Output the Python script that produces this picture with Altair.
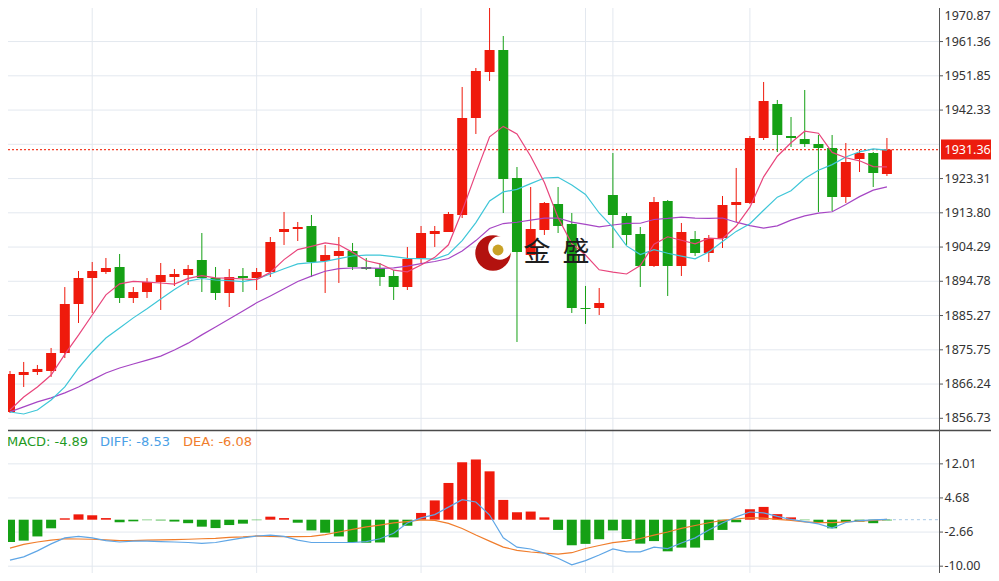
import altair as alt
import pandas as pd

# ---------------- data ----------------
idx = list(range(65))
opens = [1858.48, 1868.76, 1869.59, 1869.87, 1874.87, 1888.48, 1895.69, 1897.36, 1898.75, 1890.14,
         1891.81, 1894.59, 1895.97, 1896.53, 1900.70, 1895.69, 1891.53, 1896.25, 1895.69, 1897.36,
         1908.47, 1909.30, 1910.14, 1900.42, 1901.81, 1903.20, 1898.75, 1898.47, 1896.25, 1893.20,
         1901.25, 1907.92, 1908.47, 1913.19, 1940.13, 1952.91, 1959.01, 1923.47, 1902.09, 1909.03,
         1916.25, 1910.69, 1887.36, 1887.36, 1918.75, 1912.92, 1907.92, 1899.03, 1917.08, 1899.03,
         1906.53, 1902.64, 1906.81, 1915.97, 1916.53, 1934.58, 1944.02, 1935.13, 1934.30, 1932.91,
         1931.80, 1918.19, 1928.74, 1930.41, 1924.58]
highs = [1869.87, 1872.37, 1871.54, 1876.26, 1893.18, 1897.64, 1900.14, 1901.25, 1902.36, 1893.18,
         1895.69, 1899.86, 1898.20, 1899.31, 1908.19, 1898.75, 1898.20, 1898.47, 1898.47, 1907.08,
         1914.03, 1911.25, 1913.19, 1904.86, 1907.08, 1905.42, 1901.25, 1899.86, 1897.92, 1904.31,
         1910.14, 1910.14, 1914.03, 1948.74, 1954.02, 1972.50, 1962.90, 1926.52, 1920.97, 1916.80,
         1920.97, 1913.75, 1893.48, 1892.92, 1930.41, 1913.75, 1909.86, 1918.19, 1917.36, 1910.97,
         1908.75, 1907.64, 1918.47, 1926.25, 1935.13, 1950.13, 1945.13, 1940.41, 1947.91, 1935.41,
         1935.41, 1933.19, 1931.24, 1930.69, 1934.58]
lows = [1858.21, 1865.43, 1868.76, 1868.21, 1873.48, 1883.20, 1885.98, 1896.81, 1888.75, 1888.75,
        1890.14, 1886.81, 1893.48, 1893.75, 1891.81, 1889.59, 1887.64, 1891.81, 1892.36, 1895.97,
        1904.86, 1905.97, 1895.97, 1891.53, 1894.31, 1897.92, 1897.92, 1893.48, 1889.59, 1892.36,
        1899.86, 1904.31, 1908.47, 1912.36, 1935.69, 1950.41, 1913.75, 1877.92, 1901.53, 1907.64,
        1908.19, 1885.98, 1882.92, 1885.42, 1904.03, 1904.86, 1893.20, 1898.75, 1890.70, 1896.25,
        1901.81, 1900.14, 1904.03, 1911.25, 1916.25, 1934.02, 1930.69, 1932.08, 1932.08, 1914.03,
        1914.30, 1916.53, 1925.13, 1920.97, 1924.02]
closes = [1869.04, 1869.59, 1870.43, 1874.87, 1888.48, 1895.69, 1897.64, 1898.47, 1890.14, 1891.81,
          1894.59, 1896.53, 1896.81, 1898.20, 1895.69, 1891.53, 1895.97, 1895.69, 1897.36, 1905.69,
          1909.30, 1909.86, 1900.14, 1902.09, 1903.20, 1898.75, 1898.20, 1895.97, 1893.20, 1900.97,
          1908.19, 1908.75, 1913.47, 1940.13, 1953.18, 1959.01, 1923.19, 1902.92, 1909.30, 1916.53,
          1910.14, 1887.36, 1887.09, 1888.75, 1913.19, 1907.64, 1899.03, 1916.80, 1899.03, 1908.47,
          1902.64, 1906.81, 1915.97, 1916.80, 1934.58, 1944.85, 1935.41, 1934.58, 1932.91, 1931.80,
          1918.19, 1927.91, 1930.41, 1924.86, 1931.36]
ma5 = [1859.04, 1862.65, 1865.43, 1868.76, 1874.48, 1879.81, 1885.42, 1891.03, 1894.08, 1894.75,
       1894.53, 1894.31, 1893.98, 1895.59, 1896.36, 1895.75, 1895.64, 1895.42, 1895.25, 1897.25,
       1900.80, 1903.58, 1904.47, 1905.42, 1904.92, 1902.81, 1900.48, 1899.64, 1897.86, 1897.42,
       1899.31, 1901.42, 1904.92, 1914.30, 1924.74, 1934.91, 1937.80, 1935.69, 1929.52, 1922.19,
       1912.42, 1905.25, 1902.08, 1897.97, 1897.31, 1896.81, 1899.14, 1905.08, 1907.14, 1906.19,
       1905.19, 1906.75, 1906.58, 1910.14, 1915.36, 1923.80, 1929.52, 1933.24, 1936.47, 1935.91,
       1930.58, 1929.08, 1928.24, 1926.63, 1926.55]
ma10 = [1858.48, 1857.93, 1859.04, 1861.82, 1865.43, 1870.70, 1875.15, 1879.03, 1881.81, 1884.62,
        1887.17, 1889.87, 1892.50, 1894.84, 1895.56, 1895.14, 1894.97, 1894.70, 1895.42, 1896.81,
        1898.28, 1899.61, 1899.94, 1900.33, 1901.08, 1901.81, 1902.03, 1902.06, 1901.64, 1901.17,
        1901.06, 1900.95, 1902.28, 1906.08, 1911.08, 1917.11, 1919.61, 1920.30, 1921.91, 1923.47,
        1923.66, 1921.52, 1918.89, 1913.75, 1909.75, 1904.61, 1902.20, 1903.58, 1902.56, 1901.75,
        1901.00, 1902.95, 1905.83, 1908.64, 1910.78, 1914.50, 1918.14, 1919.91, 1923.30, 1925.64,
        1927.19, 1929.30, 1930.74, 1931.55, 1931.23]
ma20 = [1858.5, 1859.9, 1861.3, 1862.4, 1863.8, 1865.4, 1867.4, 1869.3, 1870.7, 1871.8,
        1872.9, 1874.0, 1875.7, 1877.6, 1879.9, 1882.1, 1884.3, 1886.5, 1888.8, 1890.71,
        1892.72, 1894.74, 1896.22, 1897.58, 1898.32, 1898.47, 1898.50, 1898.38, 1898.53, 1898.99,
        1899.67, 1900.28, 1901.11, 1903.21, 1906.08, 1909.46, 1910.82, 1911.18, 1911.78, 1912.32,
        1912.36, 1911.23, 1910.58, 1909.92, 1910.41, 1910.86, 1910.90, 1911.94, 1912.23, 1912.61,
        1912.33, 1912.23, 1912.36, 1911.19, 1910.26, 1909.55, 1910.17, 1911.75, 1912.93, 1913.69,
        1914.10, 1916.12, 1918.29, 1920.09, 1921.00]
macd = [-4.8, -4.5, -3.6, -1.85, 0.3, 1.15, 0.95, 0.35, -0.55, -0.35,
        -0.1, -0.15, -0.4, -0.75, -1.5, -1.8, -1.15, -0.85, -0.1, 0.65,
        0.35, -0.65, -2.3, -2.8, -3.6, -4.8, -4.95, -4.9, -3.8, -1.3,
        1.45, 4.15, 7.9, 12.35, 12.95, 10.4, 4.25, 1.6, 1.75, 0.5,
        -2.2, -5.5, -5.2, -4.2, -2.3, -4.15, -5.15, -4.6, -6.8, -6.0,
        -6.0, -4.4, -2.2, -0.55, 2.25, 2.75, 1.2, 0.5, -0.1, -0.65,
        -1.85, -0.5, -0.4, -0.75, -0.15]
diff = [-8.7, -8.0, -6.7, -5.2, -3.9, -3.6, -3.9, -4.5, -4.8, -4.6,
        -4.6, -4.7, -4.8, -4.9, -5.1, -4.9, -4.4, -3.9, -3.5, -3.3,
        -3.6, -4.4, -4.9, -4.9, -4.9, -4.9, -4.7, -4.1, -2.9, -0.7,
        0.4, 1.1, 2.7, 4.3, 3.8, 1.0, -3.9, -5.9, -6.3, -7.2,
        -8.3, -9.7, -8.8, -7.6, -6.3, -6.9, -6.9, -5.9, -6.2, -5.0,
        -3.9, -2.2, -0.7, 0.6, 1.65, 1.45, 0.7, 0.05, -0.4, -0.9,
        -1.8, -0.6, -0.2, -0.05, 0.05]
dea = [-6.1, -5.3, -4.8, -4.4, -4.1, -4.15, -4.2, -4.35, -4.5, -4.5,
       -4.4, -4.35, -4.3, -4.2, -4.1, -4.0, -3.8, -3.7, -3.5, -3.6,
       -3.65, -3.65, -3.6, -3.2, -2.65, -2.1, -1.55, -1.15, -0.7, -0.4,
       -0.05, -0.15, -0.8, -1.9, -3.3, -4.6, -5.9, -6.6, -6.95, -7.2,
       -7.4, -7.1, -6.2, -5.55, -4.95, -4.6, -4.05, -3.3, -2.65, -1.85,
       -1.25, -0.65, -0.15, 0.15, 0.45, 0.35, 0.05, -0.15, -0.45, -0.65,
       -0.65, -0.45, -0.3, -0.15, 0.05]

price_ticks = [1970.87, 1961.36, 1951.85, 1942.33, 1923.31, 1913.80, 1904.29,
               1894.78, 1885.27, 1875.75, 1866.24, 1856.73]
price_grid = price_ticks + [1932.82]
macd_ticks = [12.01, 4.68, -2.66, -10.00]
vgrid_idx = [6, 18, 30, 42, 44, 54]
last_price = 1931.36
legend_items = [("MACD", -4.89), ("DIFF", -8.53), ("DEA", -6.08)]

# ---------------- styling ----------------
RED = "#ef1a0c"
GREEN = "#15a015"
GRID = "#e3e8ef"
AXIS = "#555555"
FONT = "Noto Sans"
LEG_FONT = "DejaVu Sans"
W, H = 931, 565
RIGHT = 52
LBL_X = 936.5
LBL_SIZE = 12.5

xs = alt.Scale(domain=[-0.146, 67.80], range=[0, W], nice=False, zero=False)
ps = alt.Scale(domain=[1853.48, 1970.68], range=[422, 0], nice=False, zero=False)
ms = alt.Scale(domain=[-10.0, 12.01], range=[558.2, 455.85], nice=False, zero=False)
dir_scale = alt.Scale(domain=["up", "down"], range=[RED, GREEN])


def X(f):
    return alt.X(f, type="quantitative", scale=xs, axis=None)


def YP(f):
    return alt.Y(f, type="quantitative", scale=ps, axis=None)


def YM(f):
    return alt.Y(f, type="quantitative", scale=ms, axis=None)


cdf = pd.DataFrame({"i": idx, "o": opens, "h": highs, "l": lows, "c": closes})
cdf["dir"] = ["up" if c >= o else "down" for o, c in zip(opens, closes)]
cdf["x1"] = cdf["i"] - 0.365
cdf["x2"] = cdf["i"] + 0.365

mdf = pd.DataFrame({"i": idx, "m": macd, "diff": diff, "dea": dea})
mdf["dir"] = ["up" if m >= 0 else "down" for m in macd]
mdf["x1"] = mdf["i"] - 0.365
mdf["x2"] = mdf["i"] + 0.365
mdf["z"] = 0.0

madf = pd.DataFrame({"i": idx, "ma5": ma5, "ma10": ma10, "ma20": ma20})

pg = pd.DataFrame({"v": price_grid})
pt = pd.DataFrame({"v": price_ticks, "t": [f"{v:.2f}" for v in price_ticks]})
pt_top = pt.iloc[:1]
pt_rest = pt.iloc[1:]
mt = pd.DataFrame({"v": macd_ticks, "t": [f"{v:.2f}" for v in macd_ticks]})
vg = pd.DataFrame({"i": vgrid_idx})
lp = pd.DataFrame({"v": [last_price], "t": [f"{last_price:.2f}"], "i": [idx[-1]], "z": [0.0]})
one = pd.DataFrame({"a": [0]})

layers = []

# grid
layers.append(alt.Chart(pg).mark_rule(color=GRID, strokeWidth=1).encode(
    y=YP("v"), x=alt.value(0), x2=alt.value(W)))
layers.append(alt.Chart(mt).mark_rule(color=GRID, strokeWidth=1).encode(
    y=YM("v"), x=alt.value(0), x2=alt.value(W)))
layers.append(alt.Chart(vg).mark_rule(color=GRID, strokeWidth=1).encode(
    x=X("i"), y=alt.value(0), y2=alt.value(H)))

# last price dotted line
layers.append(alt.Chart(lp).mark_rule(color="#f2402a", strokeWidth=1.3, strokeDash=[2, 2]).encode(
    y=YP("v"), x=alt.value(0), x2=alt.value(W)))

# candles
layers.append(alt.Chart(cdf).mark_rule(strokeWidth=1).encode(
    x=X("i"), y=YP("l"), y2=alt.Y2("h"),
    color=alt.Color("dir:N", scale=dir_scale, legend=None)))
layers.append(alt.Chart(cdf).mark_rect().encode(
    x=X("x1"), x2=alt.X2("x2"), y=YP("o"), y2=alt.Y2("c"),
    color=alt.Color("dir:N", scale=dir_scale, legend=None)))

# moving averages
for col, colr in [("ma20", "#a646c4"), ("ma10", "#3ec6d8"), ("ma5", "#e8457c")]:
    layers.append(alt.Chart(madf).mark_line(strokeWidth=1.2, color=colr).encode(
        x=X("i"), y=YP(col)))

# MACD
layers.append(alt.Chart(lp).mark_rule(color="#a9c9e6", strokeWidth=1, strokeDash=[3, 3]).encode(
    x=X("i"), x2=alt.value(W), y=YM("z")))
layers.append(alt.Chart(mdf).mark_rect().encode(
    x=X("x1"), x2=alt.X2("x2"), y=YM("z"), y2=alt.Y2("m"),
    color=alt.Color("dir:N", scale=dir_scale, legend=None)))
layers.append(alt.Chart(mdf).mark_line(strokeWidth=1.2, color="#f07d2c").encode(
    x=X("i"), y=YM("dea")))
layers.append(alt.Chart(mdf).mark_line(strokeWidth=1.2, color="#5fa6e6").encode(
    x=X("i"), y=YM("diff")))

# panel separator and right axis
layers.append(alt.Chart(one).mark_rule(color="#4a4a4a", strokeWidth=1.5).encode(
    y=alt.value(422.5), x=alt.value(0), x2=alt.value(W + RIGHT)))
layers.append(alt.Chart(one).mark_rule(color=AXIS, strokeWidth=1).encode(
    x=alt.value(931.5), y=alt.value(0), y2=alt.value(H)))
layers.append(alt.Chart(pt).mark_rule(color=AXIS, strokeWidth=1).encode(
    y=YP("v"), x=alt.value(932), x2=alt.value(935)))
layers.append(alt.Chart(mt).mark_rule(color=AXIS, strokeWidth=1).encode(
    y=YM("v"), x=alt.value(932), x2=alt.value(935)))
layers.append(alt.Chart(pt_rest).mark_text(align="left", baseline="middle", font=FONT,
                                           fontSize=LBL_SIZE, color="#333333").encode(
    y=YP("v"), x=alt.value(LBL_X), text="t:N"))
layers.append(alt.Chart(pt_top).mark_text(align="left", baseline="top", dy=3, font=FONT,
                                          fontSize=LBL_SIZE, color="#333333").encode(
    y=YP("v"), x=alt.value(LBL_X), text="t:N"))
layers.append(alt.Chart(mt).mark_text(align="left", baseline="middle", font=FONT,
                                      fontSize=LBL_SIZE, color="#333333").encode(
    y=YM("v"), x=alt.value(LBL_X), text="t:N"))

# current price box
layers.append(alt.Chart(lp).mark_point(
    shape="M-1,-0.4L1,-0.4L1,0.4L-1,0.4Z", size=2500, filled=True, opacity=1,
    color="#ec1c0e", strokeWidth=0).encode(y=YP("v"), x=alt.value(958)))
layers.append(alt.Chart(lp).mark_text(align="left", baseline="middle", font=FONT,
                                      fontSize=LBL_SIZE, color="white").encode(
    y=YP("v"), x=alt.value(LBL_X), text="t:N"))

# MACD legend
leg_colors = ["#1f9a1f", "#4aa0e6", "#f07d2c"]
leg_x = [-1, 92, 175]
for (name, val), colr, lx in zip(legend_items, leg_colors, leg_x):
    layers.append(alt.Chart(one).mark_text(align="left", baseline="middle", font=LEG_FONT,
                                           fontSize=13, color=colr,
                                           text=f"{name}: {val:.2f}").encode(
        x=alt.value(lx), y=alt.value(434)))

# watermark logo
layers.append(alt.Chart(one).mark_point(shape="circle", filled=True, size=1257, opacity=1,
                                        color="#b3120f", strokeWidth=0).encode(
    x=alt.value(485), y=alt.value(245)))
layers.append(alt.Chart(one).mark_point(shape="circle", filled=True, size=560, opacity=1,
                                        color="#ffffff", strokeWidth=0).encode(
    x=alt.value(492), y=alt.value(240)))
layers.append(alt.Chart(one).mark_point(shape="circle", filled=True, size=120, opacity=1,
                                        color="#c9a227", strokeWidth=0).encode(
    x=alt.value(490), y=alt.value(242)))
for ch, cx in [("金", 529), ("盛", 568)]:
    layers.append(alt.Chart(one).mark_text(align="center", baseline="middle",
                                           font="Noto Sans CJK SC", fontSize=27,
                                           color="#1e1e1e", text=ch).encode(
        x=alt.value(cx), y=alt.value(245)))

chart = alt.layer(*layers).resolve_scale(y="independent").properties(
    width=W, height=H,
    autosize=alt.AutoSizeParams(type="none"),
    padding={"left": 0, "top": 0, "right": RIGHT, "bottom": 0},
).configure_view(stroke=None)

chart.save("out.html", embed_options={"renderer": "svg", "actions": False})
